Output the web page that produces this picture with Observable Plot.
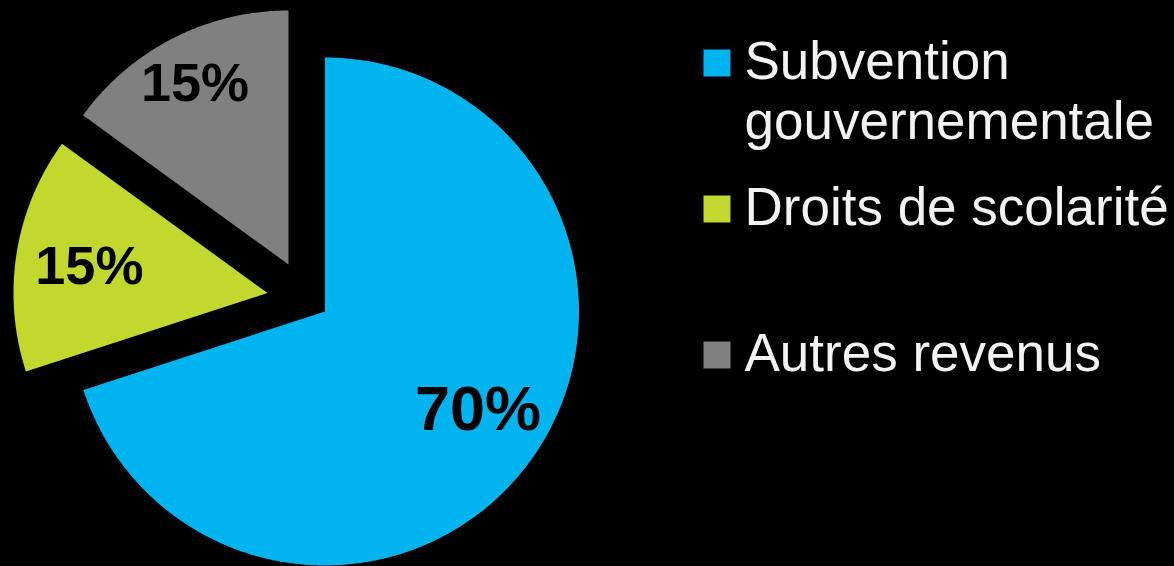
<!DOCTYPE html>
<html><head><meta charset="utf-8">
<script src="https://cdn.jsdelivr.net/npm/d3@7"></script>
<script src="https://cdn.jsdelivr.net/npm/@observablehq/plot@0.6"></script>
<style>html,body{margin:0;padding:0;background:#000;overflow:hidden}</style>
</head><body><div id="chart"></div>
<script>
// ---- data ----
const categories = ["Subvention gouvernementale", "Droits de scolarité", "Autres revenus"];
const values = [70, 15, 15];
const valueLabels = ["70%", "15%", "15%"];
const legendLines = [["Subvention", "gouvernementale"], ["Droits de scolarité"], ["Autres revenus"]];
const colors = ["#00B4F0", "#C3D82F", "#808080"];

// ---- layout / style ----
const W = 1174, H = 566, R = 254;
const origins = [[324.5, 311], [267, 292.5], [288, 264]]; // exploded slice apexes
const labelRadius = [0.71, 0.71, 0.81];
const labelAngleShift = [-4, 0, 0];
const labelSize = [63, 54, 54];
const legendX = 703, legendSquare = 27, legendRowY = [62.5, 208.5, 354.5], legendLineH = 60, legendFont = 53;
const font = "Liberation Sans, Arial, Helvetica, sans-serif";

const arcs = d3.pie().sort(null).value(d => d)(values);
const slicePts = [];
const labels = [];
arcs.forEach((a, i) => {
  const [cx, cy] = origins[i];
  const name = categories[i];
  slicePts.push({name, x: cx, y: cy});
  const n = Math.ceil((a.endAngle - a.startAngle) / (Math.PI / 360));
  for (let k = 0; k <= n; k++) {
    const t = a.startAngle + (a.endAngle - a.startAngle) * k / n;
    slicePts.push({name, x: cx + R * Math.sin(t), y: cy - R * Math.cos(t)});
  }
  const mid = (a.startAngle + a.endAngle) / 2 + labelAngleShift[i] * Math.PI / 180;
  const lr = labelRadius[i] * R;
  labels.push({
    text: valueLabels[i],
    x: cx + lr * Math.sin(mid),
    y: cy - lr * Math.cos(mid) + 0.358 * labelSize[i],
    size: labelSize[i]
  });
});

const legend = categories.map((c, i) => ({
  name: c,
  text: legendLines[i].join("\n"),
  sx: legendX + legendSquare / 2,
  sy: legendRowY[i],
  tx: legendX + 41,
  ty: legendRowY[i] + 16 + (legendLines[i].length - 1) * legendLineH
}));

const chart = Plot.plot({
  width: W, height: H, margin: 0,
  style: {background: "#000", fontFamily: font},
  x: {domain: [0, W], range: [0, W], axis: null},
  y: {domain: [0, H], range: [0, H], axis: null},
  color: {domain: categories, range: colors},
  marks: [
    Plot.line(slicePts, {x: "x", y: "y", z: "name", fill: "name", stroke: null, curve: "linear-closed"}),
    Plot.text(labels, {x: "x", y: "y", text: "text", fontSize: "size", fontWeight: "bold", fill: "#000", lineAnchor: "bottom", textAnchor: "middle", fontFamily: font}),
    Plot.dot(legend, {x: "sx", y: "sy", fill: "name", symbol: "square", r: legendSquare / Math.sqrt(Math.PI), stroke: null}),
    Plot.text(legend, {x: "tx", y: "ty", text: "text", fill: "#F2F2F2", fontSize: legendFont, textAnchor: "start", lineAnchor: "bottom", lineHeight: legendLineH / legendFont, fontFamily: font})
  ]
});
document.getElementById("chart").appendChild(chart);
</script>
</body></html>
